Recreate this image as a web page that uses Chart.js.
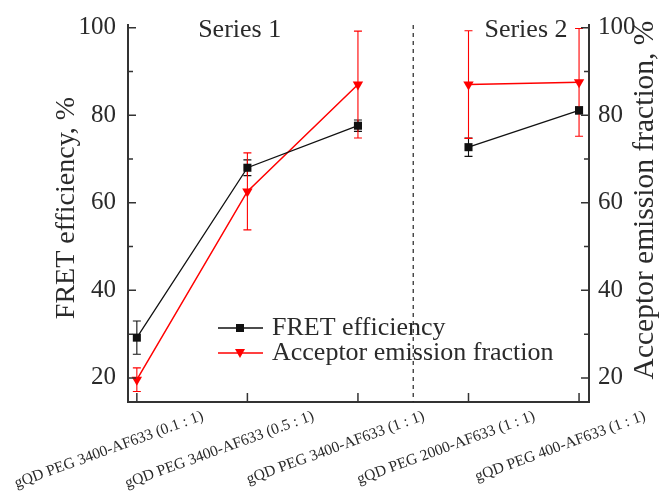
<!DOCTYPE html>
<html><head><meta charset="utf-8">
<script src="https://cdn.jsdelivr.net/npm/chart.js@4.4.1/dist/chart.umd.min.js"></script>
<style>html,body{margin:0;padding:0;background:#fff}#wrap{width:661px;height:491px;position:relative}</style>
</head><body><div id="wrap"><canvas id="c"></canvas></div>
<script>
// ---- data ----
const categories = ['gQD PEG 3400-AF633 (0.1 : 1)', 'gQD PEG 3400-AF633 (0.5 : 1)', 'gQD PEG 3400-AF633 (1 : 1)', 'gQD PEG 2000-AF633 (1 : 1)', 'gQD PEG 400-AF633 (1 : 1)'];
const groupNames = ['Series 1', 'Series 2'];
const groupOf = [0, 0, 0, 1, 1];
const fretValues = [29.2, 68.0, 77.6, 72.7, 81.1];
const fretErrors = [3.8, 1.8, 1.3, 2.1, 0.8];
const acceptorValues = [19.6, 62.6, 87.0, 87.0, 87.5];
const acceptorErrors = [2.7, 8.8, 12.2, 12.3, 12.3];
const yTicks = [20, 40, 60, 80, 100];
const yMinorTicks = [30, 50, 70, 90];
const seriesNames = ['FRET efficiency', 'Acceptor emission fraction'];
const axisTitles = ['FRET efficiency, %', 'Acceptor emission fraction, %'];

const SERIF = '"Liberation Serif","Times New Roman",serif';
const TXT = '#2a2a2a';
const AXC = '#333';
const FRET_C = '#111111';
const ACC_C = '#ff0000';

function toPoints(vals) {
  const pts = [];
  vals.forEach((v, i) => {
    if (i > 0 && groupOf[i] !== groupOf[i - 1]) pts.push({ x: i - 0.5, y: null });
    pts.push({ x: i, y: v });
  });
  return pts;
}

const decor = {
  id: 'decor',
  beforeDatasetsDraw(chart) {
    const { ctx, scales } = chart;
    const x = scales.x;
    const sets = [[fretValues, fretErrors, FRET_C, scales.y], [acceptorValues, acceptorErrors, ACC_C, scales.y2]];
    ctx.save();
    ctx.lineWidth = 1.1;
    sets.forEach(([vals, errs, col, ys]) => {
      ctx.strokeStyle = col;
      vals.forEach((v, i) => {
        const px = x.getPixelForValue(i);
        const top = ys.getPixelForValue(v + errs[i]);
        const bot = ys.getPixelForValue(v - errs[i]);
        ctx.beginPath();
        ctx.moveTo(px, top); ctx.lineTo(px, bot);
        ctx.moveTo(px - 4, top); ctx.lineTo(px + 4, top);
        ctx.moveTo(px - 4, bot); ctx.lineTo(px + 4, bot);
        ctx.stroke();
      });
    });
    ctx.restore();
  },
  afterDraw(chart) {
    const { ctx, chartArea: a, scales } = chart;
    const x = scales.x, y = scales.y, y2 = scales.y2;
    ctx.save();
    // inward ticks
    ctx.strokeStyle = AXC; ctx.lineWidth = 1.5;
    ctx.beginPath();
    yTicks.forEach(v => {
      const p = y.getPixelForValue(v);
      ctx.moveTo(a.left, p); ctx.lineTo(a.left + 8, p);
      const q = y2.getPixelForValue(v);
      ctx.moveTo(a.right, q); ctx.lineTo(a.right - 8, q);
    });
    yMinorTicks.forEach(v => {
      const p = y.getPixelForValue(v);
      ctx.moveTo(a.left, p); ctx.lineTo(a.left + 5, p);
      const q = y2.getPixelForValue(v);
      ctx.moveTo(a.right, q); ctx.lineTo(a.right - 5, q);
    });
    categories.forEach((c, i) => {
      const p = x.getPixelForValue(i);
      ctx.moveTo(p, a.bottom); ctx.lineTo(p, a.bottom - 9);
    });
    ctx.stroke();
    // group separator
    const sep = x.getPixelForValue(2.5);
    ctx.strokeStyle = '#222'; ctx.lineWidth = 1.2; ctx.setLineDash([4, 4]);
    ctx.beginPath(); ctx.moveTo(sep, a.top); ctx.lineTo(sep, a.bottom); ctx.stroke();
    ctx.setLineDash([]);
    // group labels
    ctx.fillStyle = TXT; ctx.font = '26px ' + SERIF;
    ctx.textAlign = 'center'; ctx.textBaseline = 'alphabetic';
    ctx.fillText(groupNames[0], x.getPixelForValue(0.93), 36.5);
    ctx.fillText(groupNames[1], x.getPixelForValue(3.52), 36.5);
    // legend
    const rows = [[FRET_C, 'rect', 328], [ACC_C, 'tri', 353]];
    rows.forEach(([col, shape, ly], k) => {
      ctx.strokeStyle = col; ctx.lineWidth = 1.4;
      ctx.beginPath(); ctx.moveTo(218, ly); ctx.lineTo(263, ly); ctx.stroke();
      ctx.fillStyle = col;
      if (shape === 'rect') { ctx.fillRect(236, ly - 4, 8, 8); }
      else { ctx.beginPath(); ctx.moveTo(235, ly - 4); ctx.lineTo(245, ly - 4); ctx.lineTo(240, ly + 5); ctx.closePath(); ctx.fill(); }
      ctx.fillStyle = TXT; ctx.font = '26px ' + SERIF; ctx.textAlign = 'left';
      ctx.fillText(seriesNames[k], 272, ly + 7);
    });
    // axis titles (both read bottom-to-top)
    ctx.textAlign = 'center'; ctx.textBaseline = 'middle'; ctx.fillStyle = TXT;
    ctx.font = '28px ' + SERIF;
    ctx.save(); ctx.translate(67, 208); ctx.rotate(-Math.PI / 2); ctx.fillText(axisTitles[0], 0, 0); ctx.restore();
    ctx.font = '29.5px ' + SERIF;
    ctx.save(); ctx.translate(645, 200); ctx.rotate(-Math.PI / 2); ctx.fillText(axisTitles[1], 0, 0); ctx.restore();
    ctx.restore();
  }
};

const yAxisCommon = {
  type: 'linear', min: 14.5, max: 100.6,
  grid: { display: false, drawTicks: false },
  border: { display: true, color: AXC, width: 2 },
  afterBuildTicks: s => { s.ticks = yTicks.map(v => ({ value: v })); },
};

new Chart(document.getElementById('c'), {
  type: 'line',
  data: {
    datasets: [
      { label: seriesNames[0], data: toPoints(fretValues), yAxisID: 'y', borderColor: FRET_C, backgroundColor: FRET_C,
        borderWidth: 1.3, pointStyle: 'rect', pointRadius: 5.7, pointBorderWidth: 0, tension: 0, spanGaps: false },
      { label: seriesNames[1], data: toPoints(acceptorValues), yAxisID: 'y2', borderColor: ACC_C, backgroundColor: ACC_C,
        borderWidth: 1.5, pointStyle: 'triangle', pointRotation: 180, pointRadius: 6, pointBorderWidth: 0, tension: 0, spanGaps: false }
    ]
  },
  options: {
    responsive: true, maintainAspectRatio: false, animation: false,
    layout: { padding: { top: 25, left: 0, right: 0, bottom: 0 } },
    plugins: { legend: { display: false }, tooltip: { enabled: false } },
    scales: {
      x: {
        type: 'linear', min: -0.08, max: 4.09,
        grid: { display: false, drawTicks: false },
        border: { display: true, color: AXC, width: 2 },
        afterBuildTicks: s => { s.ticks = categories.map((c, i) => ({ value: i })); },
        ticks: { autoSkip: false, minRotation: 20, maxRotation: 20, labelOffset: 66, padding: 5,
          color: TXT, font: { family: SERIF, size: 15.5 }, callback: v => categories[v] },
        afterFit: s => { s.height = 89; s.paddingLeft = 0; s.paddingRight = 0; }
      },
      y: Object.assign({}, yAxisCommon, {
        position: 'left',
        ticks: { padding: 12, color: TXT, font: { family: SERIF, size: 25 } },
        afterFit: s => { s.width = 128; s.paddingTop = 0; s.paddingBottom = 0; }
      }),
      y2: Object.assign({}, yAxisCommon, {
        position: 'right',
        ticks: { padding: 9, color: TXT, font: { family: SERIF, size: 25 } },
        afterFit: s => { s.width = 72; s.paddingTop = 0; s.paddingBottom = 0; }
      })
    }
  },
  plugins: [decor]
});
</script></body></html>
